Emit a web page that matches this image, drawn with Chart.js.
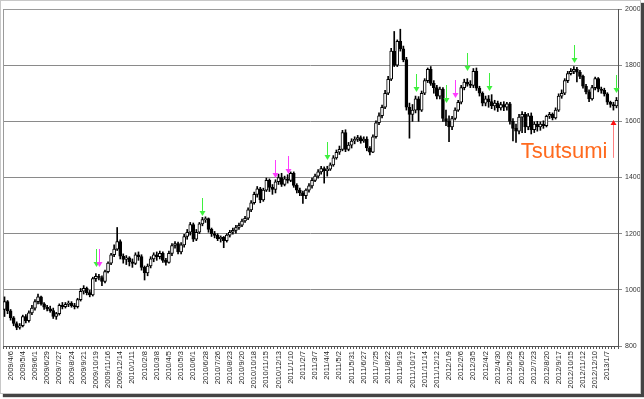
<!DOCTYPE html>
<html>
<head>
<meta charset="utf-8">
<script src="https://cdn.jsdelivr.net/npm/chart.js@4.4.1/dist/chart.umd.min.js"></script>
<style>
body { margin: 0; background: #fff; }
#frame { position: absolute; left: 0; top: 0; width: 639px; height: 392px; border: 1px solid #c8c8c8; box-shadow: 3px 3px 1px #444; background: #fff; }
canvas { display: block; }
</style>
</head>
<body>
<div id="frame"><canvas id="myChart" width="639" height="392"></canvas></div>
<script>
// weekly candles, 2009/3 - 2013/1
const tickLabels = [
  "2009/4/6", "2009/5/4", "2009/6/1", "2009/6/29", "2009/7/27", "2009/8/24", "2009/9/21", "2009/10/19", "2009/11/16", "2009/12/14",
  "2010/1/11", "2010/2/8", "2010/3/8", "2010/4/5", "2010/5/3", "2010/6/1", "2010/6/28", "2010/7/26", "2010/8/23", "2010/9/20",
  "2010/10/18", "2010/11/15", "2010/12/13", "2011/1/10", "2011/2/7", "2011/3/7", "2011/4/4", "2011/5/2", "2011/5/31", "2011/6/27",
  "2011/7/25", "2011/8/22", "2011/9/19", "2011/10/17", "2011/11/14", "2011/12/12", "2012/1/9", "2012/2/6", "2012/3/5", "2012/4/2",
  "2012/4/30", "2012/5/29", "2012/6/25", "2012/7/23", "2012/8/20", "2012/9/17", "2012/10/15", "2012/11/12", "2012/12/10", "2013/1/7"
];

const opens = [
  930, 958, 925, 900, 880, 866, 872, 905, 890, 918,
  935, 958, 975, 950, 938, 932, 926, 905, 915, 945,
  940, 948, 953, 944, 940, 965, 995, 1005, 990, 982,
  1040, 1048, 1044, 1030, 1065, 1095, 1125, 1145, 1172, 1120,
  1108, 1114, 1100, 1094, 1125, 1118, 1080, 1060, 1085, 1110,
  1125, 1118, 1130, 1105, 1098, 1130, 1158, 1165, 1135, 1160,
  1190, 1205, 1232, 1180, 1205, 1235, 1250, 1254, 1215, 1200,
  1194, 1182, 1187, 1175, 1195, 1205, 1212, 1222, 1230, 1245,
  1255, 1285, 1310, 1340, 1360, 1320, 1355, 1390, 1365, 1358,
  1385, 1400, 1375, 1395, 1390, 1415, 1372, 1355, 1345, 1335,
  1355, 1370, 1390, 1405, 1420, 1432, 1424, 1430, 1445, 1470,
  1490, 1500, 1560, 1500, 1515, 1530, 1536, 1542, 1530, 1537,
  1505, 1490, 1545, 1595, 1620, 1650, 1700, 1750, 1850, 1800,
  1885, 1858, 1820, 1650, 1625, 1640, 1680, 1640, 1700, 1745,
  1785, 1735, 1720, 1690, 1715, 1610, 1600, 1580, 1610, 1640,
  1668, 1720, 1740, 1732, 1728, 1778, 1718, 1700, 1665, 1680,
  1670, 1655, 1665, 1648, 1660, 1650, 1662, 1600, 1575, 1565,
  1615, 1625, 1580, 1620, 1570, 1590, 1580, 1590, 1585, 1618,
  1625, 1612, 1640, 1690, 1700, 1745, 1770, 1778, 1785, 1775,
  1760, 1725, 1705, 1680, 1720, 1752, 1715, 1710, 1698, 1668,
  1660, 1655
];
const highs = [
  975, 962, 930, 905, 886, 880, 910, 912, 925, 945,
  965, 985, 978, 955, 945, 942, 935, 920, 950, 955,
  955, 960, 958, 952, 970, 1005, 1015, 1010, 998, 1045,
  1058, 1055, 1050, 1070, 1100, 1130, 1160, 1222, 1178, 1128,
  1122, 1118, 1110, 1132, 1135, 1125, 1085, 1092, 1118, 1132,
  1135, 1138, 1135, 1112, 1138, 1165, 1172, 1170, 1168, 1198,
  1215, 1240, 1238, 1215, 1240, 1258, 1260, 1256, 1220, 1208,
  1200, 1192, 1190, 1200, 1212, 1220, 1230, 1238, 1252, 1262,
  1292, 1318, 1348, 1368, 1365, 1362, 1398, 1395, 1375, 1392,
  1412, 1415, 1405, 1410, 1420, 1420, 1378, 1362, 1352, 1360,
  1378, 1398, 1412, 1428, 1440, 1438, 1440, 1452, 1478, 1498,
  1512, 1568, 1570, 1525, 1538, 1545, 1550, 1548, 1545, 1545,
  1510, 1552, 1602, 1630, 1658, 1710, 1760, 1860, 1920, 1890,
  1928, 1868, 1828, 1665, 1660, 1690, 1688, 1708, 1752, 1790,
  1795, 1745, 1728, 1722, 1720, 1640, 1620, 1618, 1648, 1675,
  1728, 1750, 1752, 1745, 1788, 1790, 1725, 1705, 1690, 1692,
  1695, 1675, 1672, 1668, 1670, 1668, 1668, 1610, 1590, 1625,
  1635, 1632, 1628, 1630, 1598, 1600, 1598, 1602, 1622, 1632,
  1630, 1648, 1698, 1712, 1752, 1778, 1788, 1795, 1792, 1782,
  1765, 1732, 1712, 1728, 1758, 1756, 1722, 1718, 1702, 1672,
  1668, 1685
];
const lows = [
  905, 915, 892, 872, 858, 860, 868, 882, 885, 912,
  928, 950, 945, 930, 925, 920, 898, 895, 910, 932,
  935, 940, 938, 932, 935, 960, 985, 982, 975, 978,
  1030, 1035, 1015, 1025, 1060, 1090, 1118, 1140, 1110, 1095,
  1090, 1085, 1080, 1090, 1105, 1070, 1035, 1050, 1078, 1100,
  1105, 1110, 1098, 1088, 1095, 1122, 1148, 1128, 1128, 1152,
  1180, 1195, 1172, 1175, 1200, 1228, 1240, 1205, 1190, 1185,
  1175, 1170, 1150, 1170, 1188, 1198, 1202, 1215, 1225, 1240,
  1250, 1278, 1305, 1330, 1310, 1315, 1350, 1350, 1340, 1345,
  1375, 1368, 1370, 1380, 1385, 1365, 1345, 1335, 1308, 1325,
  1348, 1362, 1385, 1398, 1412, 1380, 1405, 1425, 1440, 1465,
  1482, 1495, 1492, 1495, 1505, 1520, 1528, 1522, 1525, 1495,
  1480, 1488, 1540, 1588, 1612, 1645, 1695, 1745, 1795, 1795,
  1850, 1812, 1640, 1540, 1600, 1630, 1600, 1635, 1695, 1738,
  1728, 1700, 1680, 1680, 1600, 1585, 1528, 1570, 1605, 1635,
  1662, 1712, 1725, 1720, 1720, 1710, 1690, 1655, 1655, 1650,
  1645, 1640, 1635, 1640, 1638, 1640, 1590, 1530, 1525, 1555,
  1560, 1560, 1570, 1555, 1560, 1565, 1568, 1575, 1580, 1610,
  1605, 1608, 1635, 1682, 1695, 1738, 1765, 1770, 1740, 1752,
  1718, 1698, 1670, 1675, 1712, 1705, 1700, 1690, 1660, 1650,
  1640, 1648
];
const closes = [
  958, 925, 900, 880, 866, 872, 905, 890, 918, 935,
  958, 975, 950, 938, 932, 926, 905, 915, 945, 940,
  948, 953, 944, 940, 965, 995, 1005, 990, 982, 1040,
  1048, 1044, 1030, 1065, 1095, 1125, 1145, 1172, 1120, 1108,
  1114, 1100, 1094, 1125, 1118, 1080, 1060, 1085, 1110, 1125,
  1118, 1130, 1105, 1098, 1130, 1158, 1165, 1135, 1160, 1190,
  1205, 1232, 1180, 1205, 1235, 1250, 1254, 1215, 1200, 1194,
  1182, 1187, 1175, 1195, 1205, 1212, 1222, 1230, 1245, 1255,
  1285, 1310, 1340, 1360, 1320, 1355, 1390, 1365, 1358, 1385,
  1400, 1375, 1395, 1390, 1415, 1372, 1355, 1345, 1335, 1355,
  1370, 1390, 1405, 1420, 1432, 1424, 1430, 1445, 1470, 1490,
  1500, 1560, 1500, 1515, 1530, 1536, 1542, 1530, 1537, 1505,
  1490, 1545, 1595, 1620, 1650, 1700, 1750, 1850, 1800, 1885,
  1858, 1820, 1650, 1625, 1640, 1680, 1640, 1700, 1745, 1785,
  1735, 1720, 1690, 1715, 1610, 1600, 1580, 1610, 1640, 1668,
  1720, 1740, 1732, 1728, 1778, 1718, 1700, 1665, 1680, 1670,
  1655, 1665, 1648, 1660, 1650, 1662, 1600, 1575, 1565, 1615,
  1625, 1580, 1620, 1570, 1590, 1580, 1590, 1585, 1618, 1625,
  1612, 1640, 1690, 1700, 1745, 1770, 1778, 1785, 1775, 1760,
  1725, 1705, 1680, 1720, 1752, 1715, 1710, 1698, 1668, 1660,
  1655, 1675
];

// signal arrows (candle index, value at arrow tip)
const arrowIdx = [30, 31, 65, 89, 93, 106, 135, 145, 148, 152, 159, 187, 201];
const arrowTip = [1082, 1082, 1264, 1400, 1414, 1461, 1704, 1664, 1682, 1779, 1707, 1807, 1700];
const arrowColor = ["#3ef03e", "#ff3cff", "#3ef03e", "#ff3cff", "#ff3cff", "#3ef03e", "#3ef03e",
  "#3ef03e", "#ff3cff", "#3ef03e", "#3ef03e", "#3ef03e", "#3ef03e"];

// "Tsutsumi" note with red up arrow
const noteIdx = 200;
const noteFrom = 1470;
const noteTo = 1605;
const noteText = "Tsutsumi";

const weekLabels = opens.map((o, i) => ((i - 2) % 4 === 0 ? (tickLabels[(i - 2) / 4] || "") : ""));
const bodies = opens.map((o, i) => [o, closes[i]]);
const wicks = lows.map((l, i) => [l, highs[i]]);
const bodyColors = opens.map((o, i) => (closes[i] >= o ? "#ffffff" : "#000000"));

const frame = {
  id: "frame",
  beforeDatasetsDraw(chart) {
    const { ctx, chartArea: a } = chart;
    ctx.save();
    ctx.strokeStyle = "#9a9a9a";
    ctx.lineWidth = 1;
    ctx.beginPath();
    ctx.moveTo(a.left + 0.5, a.bottom);
    ctx.lineTo(a.left + 0.5, a.top + 0.5);
    ctx.lineTo(a.right, a.top + 0.5);
    ctx.stroke();
    ctx.restore();
  }
};

const marks = {
  id: "marks",
  afterDatasetsDraw(chart) {
    const { ctx, scales: { x, y } } = chart;
    ctx.save();
    ctx.lineWidth = 1;
    arrowIdx.forEach((idx, k) => {
      const px = Math.round(x.getPixelForValue(idx)) + 0.5;
      const py = Math.round(y.getPixelForValue(arrowTip[k]));
      ctx.strokeStyle = arrowColor[k];
      ctx.fillStyle = arrowColor[k];
      ctx.beginPath();
      ctx.moveTo(px, py - 18);
      ctx.lineTo(px, py - 4);
      ctx.stroke();
      ctx.beginPath();
      ctx.moveTo(px - 3, py - 5);
      ctx.lineTo(px + 3, py - 5);
      ctx.lineTo(px, py);
      ctx.closePath();
      ctx.fill();
    });

    const rx = Math.round(x.getPixelForValue(noteIdx)) + 0.5;
    const ry0 = y.getPixelForValue(noteFrom);
    const ry1 = Math.round(y.getPixelForValue(noteTo));
    ctx.strokeStyle = "#ff8080";
    ctx.beginPath();
    ctx.moveTo(rx, ry0);
    ctx.lineTo(rx, ry1 + 4);
    ctx.stroke();
    ctx.fillStyle = "#ff1010";
    ctx.beginPath();
    ctx.moveTo(rx - 3, ry1 + 5);
    ctx.lineTo(rx + 3, ry1 + 5);
    ctx.lineTo(rx, ry1);
    ctx.closePath();
    ctx.fill();

    ctx.fillStyle = "#ff6a1e";
    ctx.font = '22px "Liberation Sans", Arial, sans-serif';
    ctx.textAlign = "right";
    ctx.textBaseline = "alphabetic";
    ctx.fillText(noteText, rx - 6, ry0);
    ctx.restore();
  }
};

new Chart(document.getElementById("myChart"), {
  type: "bar",
  data: {
    labels: weekLabels,
    datasets: [
      {
        data: bodies,
        backgroundColor: bodyColors,
        borderColor: "#000000",
        borderWidth: 1,
        borderSkipped: false,
        barThickness: 3,
        grouped: false,
        order: 0
      },
      {
        data: wicks,
        backgroundColor: "#000000",
        barThickness: 1,
        grouped: false,
        order: 1
      }
    ]
  },
  options: {
    responsive: false,
    animation: false,
    layout: { padding: { left: 2, top: 8, right: 0, bottom: 0 } },
    plugins: { legend: { display: false }, tooltip: { enabled: false } },
    scales: {
      x: {
        grid: { drawOnChartArea: false, drawTicks: true, tickLength: 3, color: "#555" },
        border: { color: "#555" },
        ticks: {
          autoSkip: false, maxRotation: 90, minRotation: 90, padding: 2,
          color: "#222", font: { size: 7.5, family: '"Liberation Sans", Arial, sans-serif' }
        },
        afterFit(s) { s.height = 47; }
      },
      y: {
        position: "right",
        min: 800,
        max: 2000,
        ticks: {
          stepSize: 200, padding: 3, color: "#333",
          font: { size: 7, family: '"Liberation Sans", Arial, sans-serif' },
          callback: (v) => String(v)
        },
        grid: { color: "#8a8a8a", tickLength: 4 },
        border: { color: "#555" },
        afterFit(s) { s.width = 22; }
      }
    }
  },
  plugins: [frame, marks]
});
</script>
</body>
</html>
